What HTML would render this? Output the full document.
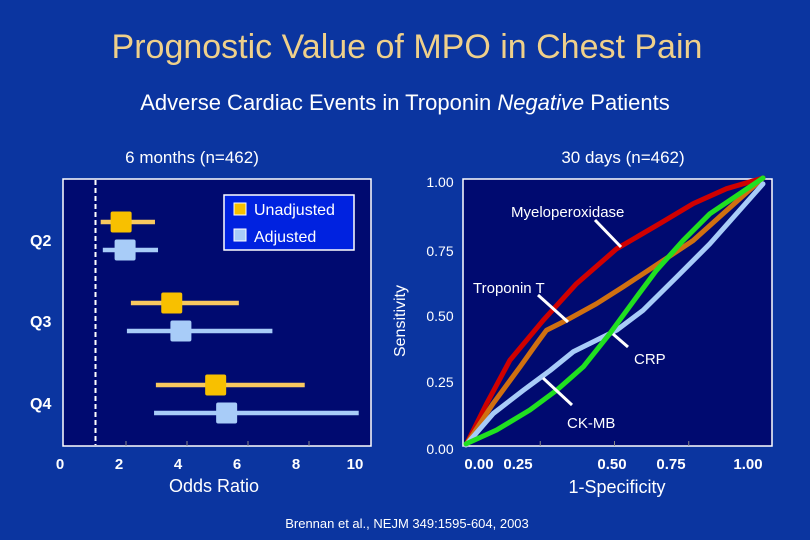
<!DOCTYPE html>
<html><head><meta charset="utf-8"><style>
body{margin:0;background:#0b35a0;}
#wrap{position:relative;width:810px;height:540px;overflow:hidden;background:#0b35a0;font-family:"Liberation Sans",sans-serif;}
</style></head><body>
<div id="wrap">
<svg id="svg" width="810" height="540" xmlns="http://www.w3.org/2000/svg" font-family="Liberation Sans, sans-serif">
<text x="407" y="58" font-size="34" fill="#efd08a" text-anchor="middle">Prognostic Value of MPO in Chest Pain</text>
<text x="405" y="110" font-size="22" fill="#fff" text-anchor="middle">Adverse Cardiac Events in Troponin <tspan font-style="italic">Negative</tspan> Patients</text>
<text x="192" y="163" font-size="17" fill="#fff" text-anchor="middle">6 months (n=462)</text>
<text x="623" y="163" font-size="17" fill="#fff" text-anchor="middle">30 days (n=462)</text>
<rect x="63" y="179" width="308" height="267" fill="#000a70" stroke="#fff" stroke-width="1.5"/>
<rect x="463" y="179" width="309" height="267" fill="#000a70" stroke="#fff" stroke-width="1.5"/>
<g id="left"></g>
<g id="right"></g>
<rect x="224" y="195" width="130" height="55" fill="#0022e0" stroke="#fff" stroke-width="1.5"/>
<rect x="234" y="203" width="12" height="12" fill="#f8c000" stroke="#fff" stroke-width="1"/>
<text x="254" y="215" font-size="16" fill="#fff">Unadjusted</text>
<rect x="234" y="229" width="12" height="12" fill="#a8ccf8" stroke="#fff" stroke-width="1"/>
<text x="254" y="242" font-size="16" fill="#fff">Adjusted</text>
<text x="214" y="492" font-size="18" fill="#fff" text-anchor="middle">Odds Ratio</text>
<text x="405" y="321" font-size="16" fill="#fff" text-anchor="middle" transform="rotate(-90 405 321)">Sensitivity</text>
<text x="617" y="493" font-size="18" fill="#fff" text-anchor="middle">1-Specificity</text>
<g font-size="15" font-weight="bold" fill="#fff" text-anchor="middle">
<text x="479" y="469">0.00</text><text x="518" y="469">0.25</text><text x="612" y="469">0.50</text><text x="671" y="469">0.75</text><text x="748" y="469">1.00</text></g>
<g font-size="14" fill="#fff" text-anchor="middle">
<text x="440" y="187">1.00</text><text x="440" y="256">0.75</text><text x="440" y="321">0.50</text><text x="440" y="387">0.25</text><text x="440" y="454">0.00</text></g>
<g stroke="#fff" stroke-width="3">
<line x1="595" y1="220" x2="621" y2="247"/><line x1="538" y1="295" x2="568" y2="322"/>
<line x1="628" y1="347" x2="613" y2="334"/><line x1="572" y1="405" x2="543" y2="378"/></g>
<g font-size="15" fill="#fff">
<text x="511" y="217">Myeloperoxidase</text><text x="473" y="293">Troponin T</text>
<text x="634" y="364">CRP</text><text x="567" y="428">CK-MB</text></g>
<text x="407" y="528" font-size="13" fill="#fff" text-anchor="middle">Brennan et al., NEJM 349:1595-604, 2003</text>
</svg>
</div>
<script>
const quartiles=["Q2","Q3","Q4"];
const unadjOR=[1.84,3.5,4.94];
const unadjLo=[1.17,2.16,2.98];
const unadjHi=[2.95,5.7,7.86];
const adjOR=[1.97,3.8,5.3];
const adjLo=[1.24,2.03,2.92];
const adjHi=[3.05,6.8,9.63];
const orTicks=[0,2,4,6,8,10];
const refLine=1;
const rocX=[
 [0,.07,.148,.26,.372,.507,.652,.765,.877,1],
 [0,.092,.182,.238,.271,.338,.439,.529,.664,.765,.877,1],
 [0,.092,.193,.283,.361,.439,.507,.596,.709,.821,1],
 [0,.103,.215,.305,.395,.484,.574,.641,.731,.821,1]];
const rocY=[
 [0,.156,.318,.467,.604,.735,.829,.904,.96,1],
 [0,.156,.293,.38,.43,.467,.529,.592,.691,.766,.878,1],
 [0,.118,.205,.279,.349,.392,.43,.504,.629,.753,.978],
 [.004,.056,.131,.205,.293,.417,.554,.654,.766,.866,1]];
const rocNames=["myeloperoxidase","troponin-t","crp","ck-mb"];
const rocColors=["#d00000","#d07010","#a8ccf8","#20e020"];
const NS="http://www.w3.org/2000/svg";
function mk(p,t,a){const e=document.createElementNS(NS,t);for(const k in a)e.setAttribute(k,a[k]);p.appendChild(e);return e;}
const xs=v=>65+v*30.5;
const left=document.getElementById('left');
// ref line
let rl=mk(left,'line',{x1:xs(refLine),x2:xs(refLine),y1:180,y2:445,stroke:'#fff','stroke-width':2,'stroke-dasharray':'5,3'});


orTicks.forEach(t=>{
 let tl=mk(left,'text',{x:60+t*29.5,y:469,'font-size':15,'font-weight':'bold',fill:'#fff','text-anchor':'middle'});
 tl.textContent=t;
 
 
 if(t>0&&t<10){let tk=mk(left,'line',{x1:xs(t),x2:xs(t),y1:441,y2:446,stroke:'#888','stroke-width':1});
 
 }
});
const qy=[240,321,403];
quartiles.forEach((q,i)=>{
 let ql=mk(left,'text',{x:30,y:qy[i]+6,'font-size':16,'font-weight':'bold',fill:'#fff'});
 ql.textContent=q;
 
 
 const y1=qy[i]-18,y2=qy[i]+10;
 [[unadjOR,unadjLo,unadjHi,'#f8c860','#f8c000',y1,'unadjusted'],[adjOR,adjLo,adjHi,'#a8ccf8','#a8ccf8',y2,'adjusted']].forEach(s=>{
  let b=mk(left,'line',{x1:xs(s[1][i]),x2:xs(s[2][i]),y1:s[5],y2:s[5],stroke:s[3],'stroke-width':4.5});
  
  
  let r=mk(left,'rect',{x:xs(s[0][i])-10.5,y:s[5]-10.5,width:21,height:21,rx:2,fill:s[4]});
  
  
 });
});
const rx=v=>466+v*297, ry=v=>445-v*267;
const right=document.getElementById('right');
[0.25,0.5,0.75].forEach(t=>{let tk=mk(right,'line',{x1:rx(t),x2:rx(t),y1:441,y2:446,stroke:'#888'});
 
 });
rocX.forEach((xa,k)=>{
 const d=xa.map((x,j)=>(j?'L':'M')+rx(x).toFixed(1)+','+ry(rocY[k][j]).toFixed(1)).join(' ');
 let p=mk(right,'path',{d:d,fill:'none',stroke:rocColors[k],'stroke-width':5,'stroke-linejoin':'round','stroke-linecap':'round'});
 
 
});
</script>
</body></html>
